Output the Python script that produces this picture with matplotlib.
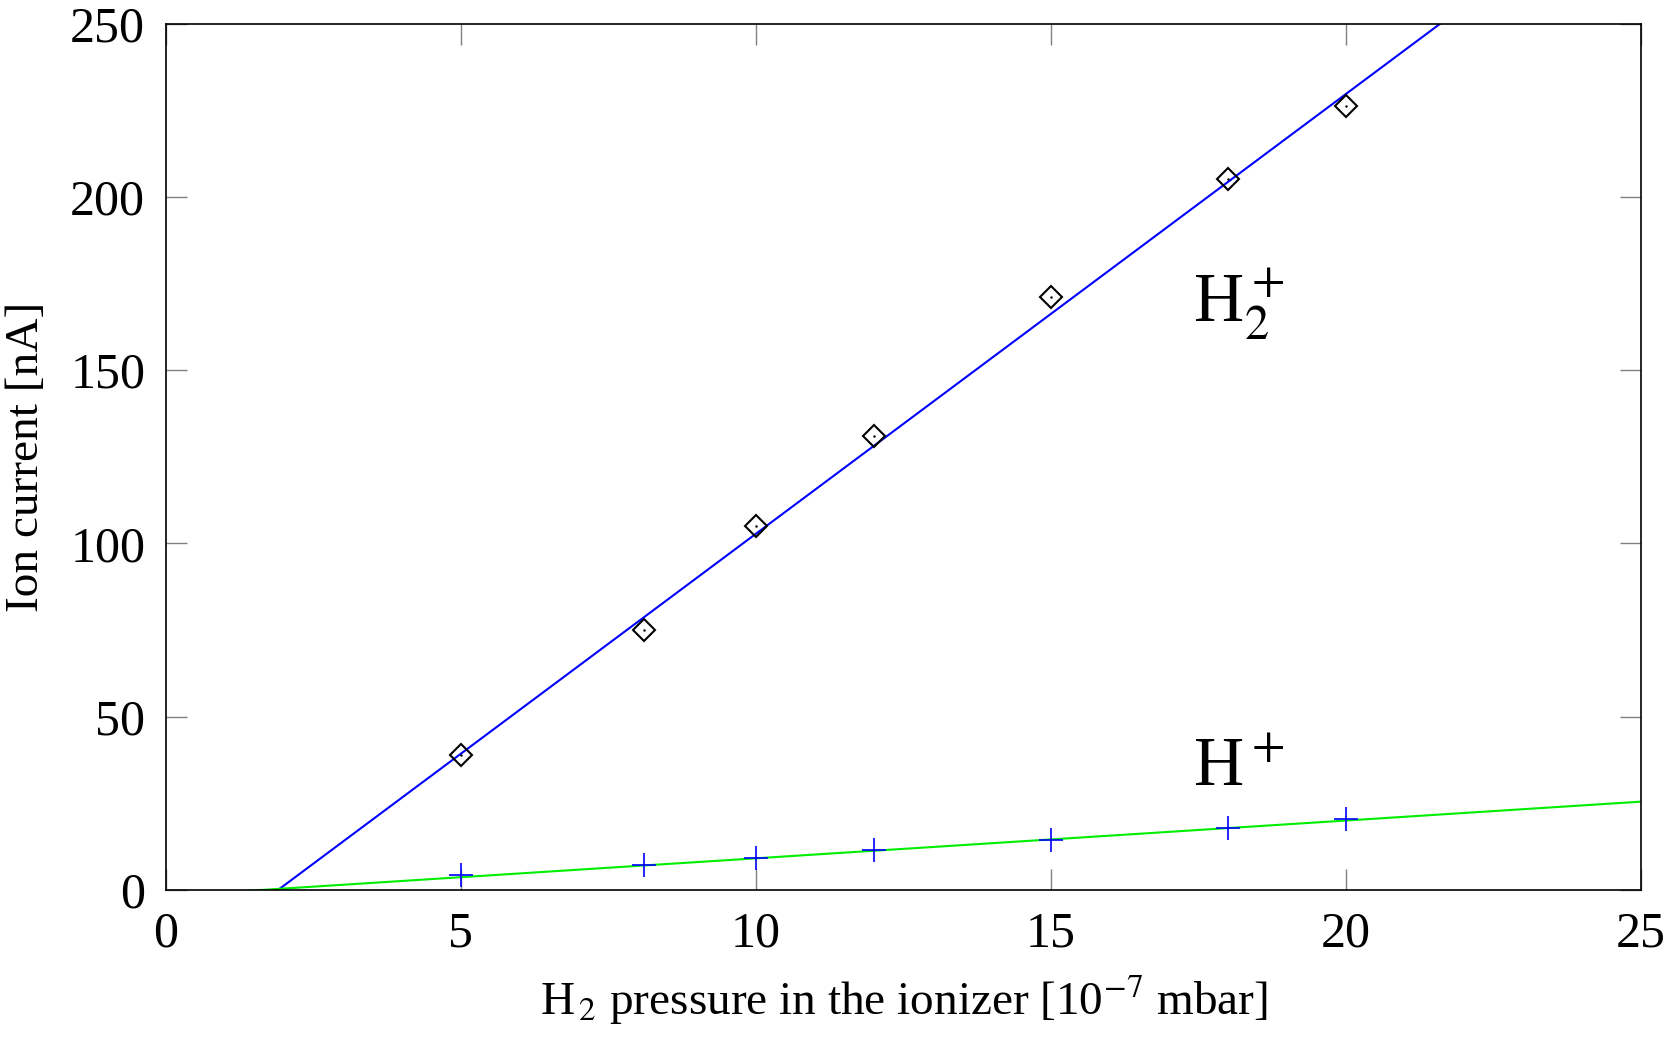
import matplotlib
matplotlib.use('Agg')
import matplotlib.pyplot as plt
import numpy as np

plt.rcParams.update({'font.family': 'Liberation Serif', 'mathtext.fontset': 'stix', 'font.size': 36})

# measured points
pressure = [5.0, 8.1, 10.0, 12.0, 15.0, 18.0, 20.0]
h2_current = [38.9, 75.1, 105.1, 131.0, 171.2, 205.2, 226.2]
h_current = [4.3, 7.1, 9.3, 11.4, 14.5, 17.9, 20.4]

# linear fits (slope, intercept)
h2_fit = (12.69, -24.1)
h_fit = (1.09, -1.76)

fig = plt.figure(figsize=(16.8, 10.38), dpi=100)
ax = fig.add_axes([0.0988, 0.1426, 0.8780, 0.8347])

xf = np.array([0.0, 25.0])
ax.plot(xf, h2_fit[0]*xf + h2_fit[1], color='blue', linewidth=1.5, zorder=2)
ax.plot(xf, h_fit[0]*xf + h_fit[1], color='#00ee00', linewidth=1.5, zorder=2)
ax.plot(pressure, h2_current, linestyle='none', marker='D', markersize=11,
        markerfacecolor='none', markeredgecolor='black', markeredgewidth=1.5, zorder=3)
ax.plot(pressure, h2_current, linestyle='none', marker='.', markersize=1.5, color='black', zorder=3)
ax.plot(pressure, h_current, linestyle='none', marker='+', markersize=17,
        markeredgewidth=1.2, color='blue', zorder=3)

ax.text(17.4, 164, r'H$_2^+$', fontsize=50)
ax.text(17.4, 30, r'H$^+$', fontsize=50)

ax.set_xlim(0, 25)
ax.set_ylim(0, 250)
ax.set_xticks(np.arange(0, 26, 5))
ax.set_yticks(np.arange(0, 251, 50))
ax.tick_params(direction='in', length=15, width=1, color='gray', pad=15,
               top=True, right=True)
for s in ax.spines.values():
    s.set_linewidth(1.2)

ax.set_xlabel(r'H$_{\,2}$ pressure in the ionizer [10$^{-7}$ mbar]', fontsize=34, labelpad=12)
ax.set_ylabel('Ion current [nA]', fontsize=34, labelpad=16)

# title cut off at the top of the picture
fig.text(0.562, 1.009, r'H$_2$', fontsize=50, va='baseline')

fig.savefig('out.png', dpi=100)
